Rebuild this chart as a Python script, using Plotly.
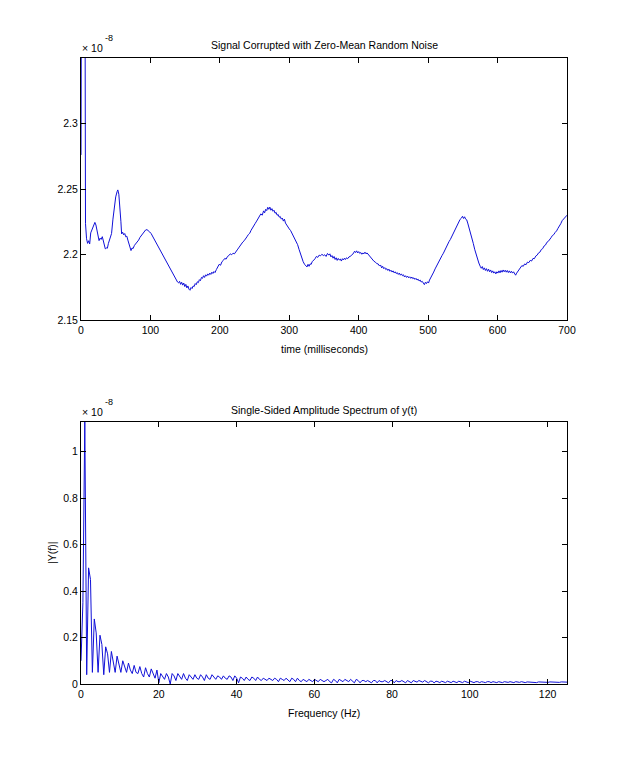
import numpy as np
import plotly.graph_objects as go

# ---------------- data (values in units of 1e-8) ----------------
time_ms = [
    0, 1.5, 5, 6.5, 8, 9.5, 11, 12.5, 14, 15.5,
    17, 18.5, 20, 21.5, 23, 24.5, 26, 27.5, 29, 30.7,
    32, 33.5, 35, 36.5, 38, 39.5, 41, 42.5, 44, 46,
    48, 50, 52, 53, 54.5, 56, 57.5, 58.5, 60, 61.5,
    63, 64.5, 66, 67.5, 69, 70.5, 72, 73.5, 75, 77,
    79, 81, 83, 85, 87, 89, 91, 93, 95, 97,
    99, 101, 103, 105, 107, 109, 111, 113, 115, 117,
    119, 121, 123, 125, 127, 129, 131, 133, 135, 137,
    139, 140.5, 142, 143.5, 145, 146.5, 148, 149.5, 151, 152.5,
    154, 155.5, 157, 158.5, 160, 161.5, 163, 164.5, 166, 167.5,
    169, 170.5, 172, 173.5, 175, 176.5, 178, 179.5, 181, 182.5,
    184, 185.5, 187, 188.5, 190, 191.5, 193, 195, 197, 199,
    201, 203, 205, 207, 209, 211, 213, 215, 217, 219,
    221, 223, 225, 227, 229, 231, 233, 235, 237, 239,
    241, 243, 245, 247, 249, 251, 253, 255, 257, 259,
    261, 263, 264.5, 266, 267.5, 269, 270.5, 272, 273.5, 275,
    276.5, 278, 279.5, 281, 282.5, 284, 285.5, 287, 288.5, 290,
    291.5, 293, 294.5, 296, 298, 300, 302, 304, 306, 308,
    310, 312, 314, 316, 318, 320, 322, 324, 325.5, 327,
    328.5, 330, 331.5, 333, 335, 337, 339, 341, 343, 345,
    347, 349, 351, 353, 355, 357, 358.5, 360, 361.5, 363,
    364.5, 366, 367.5, 369, 370.5, 372, 373.5, 375, 376.5, 378,
    379.5, 381, 382.5, 384, 386, 388, 390, 392, 394, 395.5,
    397, 398.5, 400, 401.5, 403, 404.5, 406, 407.5, 409, 410.5,
    412, 414, 416, 418, 420, 422, 424, 426, 428, 430,
    431.5, 433, 434.5, 436, 437.5, 439, 440.5, 442, 443.5, 445,
    446.5, 448, 449.5, 451, 452.5, 454, 455.5, 457, 458.5, 460,
    461.5, 463, 464.5, 466, 467.5, 469, 470.5, 472, 473.5, 475,
    476.5, 478, 479.5, 481, 482.5, 484, 485.5, 487, 488.5, 490,
    491.5, 493, 494.6, 496, 497.5, 499, 500.5, 502, 504, 506,
    508, 510, 512, 514, 516, 518, 520, 522, 524, 526,
    528, 530, 532, 534, 536, 538, 540, 542, 544, 546,
    548, 549.5, 551, 552.5, 554, 555.5, 557, 559, 561, 563,
    565, 567, 569, 571, 573, 575, 576.5, 578, 579.5, 581,
    582.5, 584, 585.5, 587, 588.5, 590, 591.5, 593, 594.5, 596,
    597.5, 599, 600.5, 602, 603.5, 605, 606.5, 608, 609.5, 611,
    612.5, 614, 615.5, 617, 618.5, 620, 621.5, 623, 624.5, 626,
    627.5, 629, 631, 633, 635, 637, 639, 641, 643, 645,
    647, 649, 651, 653, 655, 657, 659, 661, 663, 665,
    667, 669, 671, 673, 675, 677, 679, 681, 683, 685,
    687, 689, 691, 693, 695, 697, 699, 700,
]
signal = [
    2.276, 2.60, 2.60, 2.2235, 2.212, 2.2085, 2.2105, 2.208, 2.2165, 2.2185,
    2.221, 2.2235, 2.2245, 2.2225, 2.2190, 2.2165, 2.2106, 2.2125, 2.2115, 2.2136,
    2.2110, 2.2075, 2.2043, 2.2050, 2.2048, 2.2085, 2.2110, 2.2135, 2.2160, 2.2270,
    2.2384, 2.2440, 2.2480, 2.2493, 2.2460, 2.2380, 2.2250, 2.2157, 2.2170, 2.2150,
    2.2160, 2.2135, 2.2140, 2.2110, 2.2075, 2.2045, 2.2030, 2.2050, 2.2045, 2.2070,
    2.2082, 2.2095, 2.2110, 2.2131, 2.2145, 2.2160, 2.2175, 2.2187, 2.2190, 2.2183,
    2.2172, 2.2160, 2.2140, 2.2125, 2.2105, 2.2088, 2.2068, 2.2050, 2.2028, 2.2010,
    2.1988, 2.1970, 2.1945, 2.1925, 2.1900, 2.1880, 2.1860, 2.1841, 2.1818, 2.1805,
    2.1790, 2.1783, 2.1795, 2.1772, 2.1788, 2.1766, 2.1782, 2.1755, 2.1772, 2.1745,
    2.1760, 2.1735, 2.1727, 2.1748, 2.1740, 2.1760, 2.1755, 2.1778, 2.1770, 2.1792,
    2.1785, 2.1808, 2.1800, 2.1825, 2.1818, 2.1838, 2.1825, 2.1845, 2.1835, 2.1852,
    2.1842, 2.1858, 2.1848, 2.1865, 2.1855, 2.1870, 2.1862, 2.1885, 2.1900, 2.1925,
    2.1918, 2.1945, 2.1955, 2.1970, 2.1965, 2.1985, 2.1992, 2.2005, 2.1998, 2.2010,
    2.2005, 2.2025, 2.2035, 2.2050, 2.2068, 2.2075, 2.2095, 2.2105, 2.2125, 2.2135,
    2.2152, 2.2162, 2.2185, 2.2200, 2.2215, 2.2238, 2.2255, 2.2275, 2.2285, 2.2310,
    2.2300, 2.2333, 2.2318, 2.2345, 2.2335, 2.2360, 2.2345, 2.2362, 2.2338, 2.2350,
    2.2330, 2.2338, 2.2315, 2.2322, 2.2300, 2.2305, 2.2285, 2.2290, 2.2270, 2.2278,
    2.2255, 2.2270, 2.2240, 2.2225, 2.2210, 2.2195, 2.2182, 2.2160, 2.2140, 2.2125,
    2.2100, 2.2075, 2.2040, 2.2005, 2.1967, 2.1945, 2.1925, 2.1917, 2.1905, 2.1925,
    2.1910, 2.1928, 2.1925, 2.1945, 2.1955, 2.1967, 2.1985, 2.1978, 2.1995, 2.1990,
    2.2002, 2.1992, 2.1998, 2.1985, 2.2008, 2.1995, 2.2005, 2.1982, 2.1992, 2.1972,
    2.1985, 2.1962, 2.1975, 2.1955, 2.1970, 2.1958, 2.1965, 2.1950, 2.1968, 2.1958,
    2.1972, 2.1962, 2.1975, 2.1968, 2.1982, 2.1985, 2.1998, 2.2005, 2.2025, 2.2015,
    2.2028, 2.2012, 2.2022, 2.2008, 2.2015, 2.2002, 2.2012, 2.2005, 2.2018, 2.2005,
    2.2012, 2.1998, 2.1985, 2.1972, 2.1960, 2.1948, 2.1942, 2.1930, 2.1928, 2.1912,
    2.1920, 2.1898, 2.1910, 2.1892, 2.1900, 2.1885, 2.1892, 2.1878, 2.1888, 2.1872,
    2.1880, 2.1866, 2.1875, 2.1860, 2.1868, 2.1855, 2.1862, 2.1848, 2.1858, 2.1842,
    2.1852, 2.1838, 2.1845, 2.1828, 2.1838, 2.1825, 2.1835, 2.1822, 2.1830, 2.1818,
    2.1828, 2.1815, 2.1822, 2.1810, 2.1818, 2.1805, 2.1812, 2.1798, 2.1805, 2.1790,
    2.1795, 2.1780, 2.1770, 2.1788, 2.1778, 2.1792, 2.1782, 2.1805, 2.1830, 2.1850,
    2.1866, 2.1890, 2.1912, 2.1935, 2.1952, 2.1970, 2.1992, 2.2010, 2.2035, 2.2055,
    2.2080, 2.2098, 2.2115, 2.2138, 2.2160, 2.2185, 2.2210, 2.2235, 2.2250, 2.2268,
    2.2278, 2.2292, 2.2275, 2.2288, 2.2270, 2.2265, 2.2240, 2.2205, 2.2170, 2.2130,
    2.2085, 2.2040, 2.1998, 2.1967, 2.1935, 2.1910, 2.1895, 2.1908, 2.1885, 2.1898,
    2.1878, 2.1892, 2.1872, 2.1888, 2.1868, 2.1882, 2.1862, 2.1875, 2.1858, 2.1868,
    2.1852, 2.1868, 2.1858, 2.1875, 2.1860, 2.1878, 2.1865, 2.1882, 2.1868, 2.1880,
    2.1865, 2.1878, 2.1862, 2.1875, 2.1860, 2.1872, 2.1858, 2.1868, 2.1850, 2.1842,
    2.1858, 2.1870, 2.1885, 2.1900, 2.1915, 2.1910, 2.1928, 2.1922, 2.1942, 2.1938,
    2.1955, 2.1950, 2.1970, 2.1968, 2.1988, 2.1995, 2.2012, 2.2018, 2.2038, 2.2045,
    2.2065, 2.2072, 2.2093, 2.2100, 2.2120, 2.2128, 2.2145, 2.2152, 2.2169, 2.2180,
    2.2200, 2.2215, 2.2235, 2.2258, 2.2270, 2.2285, 2.2295, 2.2300,
]

# single-sided amplitude spectrum |Y(f)|, equally spaced bins from 0 to 125 Hz
spectrum = [
    0.10, 0.35, 1.128, 0.04, 0.50, 0.45, 0.05, 0.28, 0.22, 0.05,
    0.21, 0.17, 0.04, 0.16, 0.13, 0.05, 0.14, 0.10, 0.05, 0.12,
    0.08, 0.05, 0.10, 0.07, 0.05, 0.09, 0.06, 0.045, 0.08, 0.05,
    0.045, 0.075, 0.045, 0.03, 0.07, 0.045, 0.03, 0.065, 0.04, 0.025,
    0.06,
    0.005, 0.045, 0.035, 0.02, 0.045, 0.03, 0.0, 0.045, 0.035, 0.015,
    0.045, 0.03, 0.02, 0.045, 0.025, 0.015, 0.04, 0.03, 0.02, 0.04,
    0.025, 0.02, 0.04, 0.03, 0.015, 0.04, 0.025, 0.02, 0.04, 0.03,
    0.02, 0.035, 0.03, 0.02, 0.035, 0.025, 0.02, 0.035, 0.03, 0.015,
    0.035, 0.025,
    0.005, 0.03, 0.025, 0.015, 0.03, 0.02, 0.015, 0.03, 0.025, 0.015,
    0.03, 0.02, 0.015, 0.025, 0.02, 0.015, 0.025, 0.02, 0.015, 0.025,
    0.02, 0.01, 0.025, 0.02, 0.015, 0.025, 0.015, 0.01, 0.025, 0.02,
    0.01, 0.025, 0.015, 0.01, 0.02, 0.015, 0.01, 0.02, 0.015, 0.01,
    0.02, 0.015, 0.01, 0.02, 0.015, 0.01,
    0.015, 0.02, 0.01, 0.005, 0.02, 0.015, 0.005, 0.02, 0.015, 0.01,
    0.02, 0.015, 0.01, 0.02, 0.01, 0.005, 0.02, 0.015, 0.005, 0.015,
    0.015, 0.01, 0.015, 0.01, 0.005, 0.015, 0.015, 0.005, 0.015, 0.01,
    0.01, 0.015, 0.01, 0.005, 0.015, 0.015, 0.005, 0.015, 0.01, 0.01,
    0.015, 0.01, 0.005, 0.015, 0.01, 0.005, 0.015, 0.01, 0.008, 0.015,
    0.01, 0.008, 0.015, 0.01, 0.005, 0.012, 0.012, 0.005, 0.012, 0.01,
    0.006, 0.012, 0.01, 0.006, 0.012, 0.01, 0.006, 0.012, 0.008, 0.006,
    0.012, 0.01, 0.006, 0.012, 0.008, 0.006, 0.012, 0.01, 0.006, 0.01,
    0.01, 0.006, 0.01, 0.008, 0.006, 0.01, 0.01, 0.006, 0.01, 0.008,
    0.006, 0.01, 0.008, 0.006, 0.01, 0.008, 0.007, 0.01, 0.008, 0.006,
    0.01, 0.008, 0.007, 0.01, 0.008, 0.006, 0.009, 0.008, 0.007, 0.009,
    0.008, 0.006, 0.009, 0.008, 0.007, 0.009, 0.008, 0.007, 0.009, 0.008,
    0.007, 0.009, 0.008, 0.007, 0.009, 0.008, 0.007, 0.008,
]
nyquist_hz = 125.0
freq_hz = np.arange(len(spectrum)) * nyquist_hz / (len(spectrum) - 1)

top_xticks = [0, 100, 200, 300, 400, 500, 600, 700]
top_yticks = [2.15, 2.2, 2.25, 2.3]
bot_xticks = [0, 20, 40, 60, 80, 100, 120]
bot_yticks = [0, 0.2, 0.4, 0.6, 0.8, 1]

# ---------------- figure ----------------
W, H = 626, 769
L, R, T, B = 81, 59, 58, 85
FONT = "Liberation Sans, Arial, Helvetica, sans-serif"
LINE = "#1010d8"

fig = go.Figure()
fig.add_trace(go.Scatter(x=time_ms, y=signal, mode="lines",
                         line=dict(color=LINE, width=1), xaxis="x", yaxis="y", showlegend=False))
fig.add_trace(go.Scatter(x=freq_hz, y=spectrum, mode="lines",
                         line=dict(color=LINE, width=1), xaxis="x2", yaxis="y2", showlegend=False))

axis_common = dict(showline=True, linecolor="black", linewidth=1, mirror="allticks",
                   ticks="inside", ticklen=5, tickwidth=1, tickcolor="black",
                   showgrid=False, zeroline=False,
                   tickfont=dict(family=FONT, size=10.5, color="black"))

plot_h = H - T - B
top_dom = [(684 - 320) / plot_h, 1.0]
bot_dom = [0.0, (684 - 422) / plot_h]

fig.update_layout(
    width=W, height=H,
    margin=dict(l=L, r=R, t=T, b=B, pad=0),
    paper_bgcolor="white", plot_bgcolor="white",
    xaxis=dict(axis_common, range=[0, 700], tickvals=top_xticks, anchor="y", domain=[0, 1]),
    yaxis=dict(axis_common, range=[2.15, 2.35], tickvals=top_yticks, anchor="x", domain=top_dom),
    xaxis2=dict(axis_common, range=[0, 125], tickvals=bot_xticks, anchor="y2", domain=[0, 1]),
    yaxis2=dict(axis_common, range=[0, 1.128], tickvals=bot_yticks, anchor="x2", domain=bot_dom),
)


def px2paper(px, py):
    return (px - L) / (W - L - R), (H - B - py) / plot_h


def add_text(text, px, py, size=10.5, xanchor="center", yanchor="middle", angle=0):
    x, y = px2paper(px, py)
    fig.add_annotation(text=text, x=x, y=y, xref="paper", yref="paper", showarrow=False,
                       xanchor=xanchor, yanchor=yanchor, textangle=angle,
                       font=dict(family=FONT, size=size, color="black"))


add_text("Signal Corrupted with Zero-Mean Random Noise", 324, 45)
add_text("time (milliseconds)", 324, 349)
add_text("× 10", 80, 48, xanchor="left")
add_text("-8", 103, 38, size=9, xanchor="left")

add_text("Single-Sided Amplitude Spectrum of y(t)", 324, 410)
add_text("Frequency (Hz)", 324, 713)
add_text("|Y(f)|", 52, 553, angle=-90)
add_text("× 10", 80, 412, xanchor="left")
add_text("-8", 103, 402, size=9, xanchor="left")

fig.write_html("out.html")
